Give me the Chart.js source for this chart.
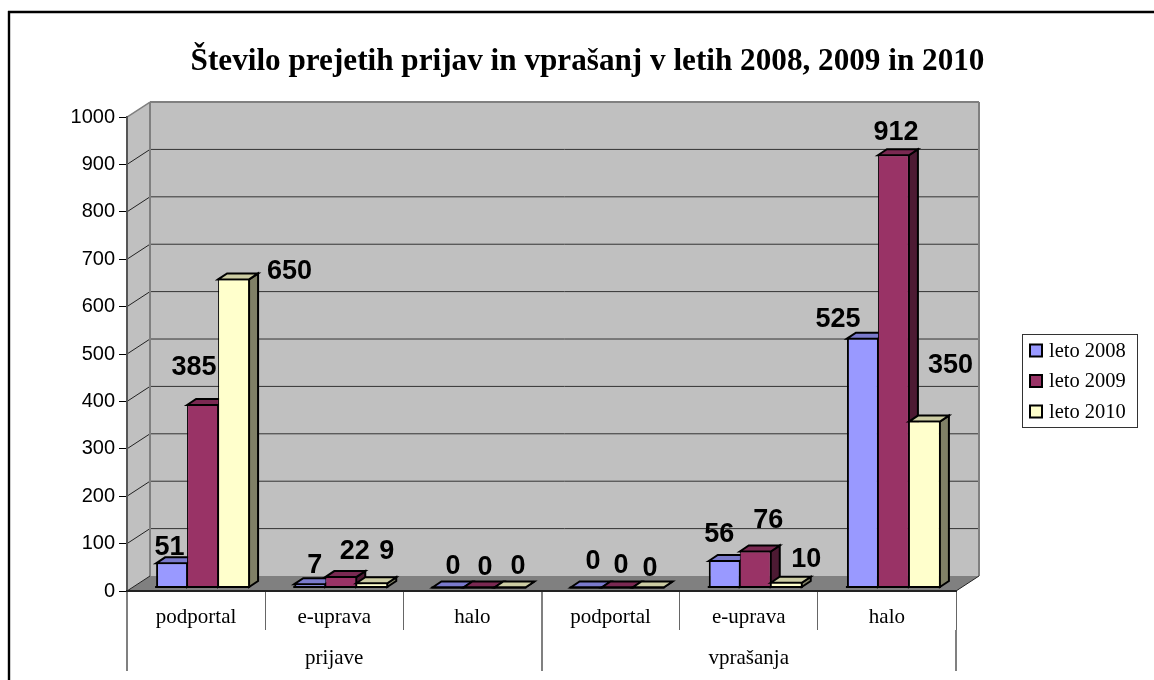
<!DOCTYPE html>
<html>
<head>
<meta charset="utf-8">
<title>Število prejetih prijav in vprašanj</title>
<script src="https://cdn.jsdelivr.net/npm/chart.js@4/dist/chart.umd.js"></script>
<style>
    body { margin: 0; background: #fff; }
    canvas { display: block; }
</style>
</head>
<body>
<canvas id="grafica" width="1154" height="680"></canvas>
<script>
const kategorije = ['podportal', 'e-uprava', 'halo', 'podportal', 'e-uprava', 'halo'];
const sklopi = ['prijave', 'vprašanja'];

const leto2008 = [51, 7, 0, 0, 56, 525];
const leto2009 = [385, 22, 0, 0, 76, 912];
const leto2010 = [650, 9, 0, 0, 10, 350];

const yTicks = [0, 100, 200, 300, 400, 500, 600, 700, 800, 900, 1000];

// rucno premaknjene oznake (dx, dy od vrha stolpca), kot v izvirniku
const oznake2008 = [[-2, -16], [5, -19], [5, -21], [7, -26], [-5, -26], [-24.5, -19]];
const oznake2009 = [[-8.5, -37], [14, -26], [6, -20], [4, -22], [13, -31], [2.5, -23]];
const oznake2010 = [[56, -8], [15, -32], [8, -21], [2, -19], [20, -23], [26, -56]];
const premikiOznak = [oznake2008, oznake2009, oznake2010];

const SERIF = '"Liberation Serif", "Times New Roman", serif';
const SANS = '"Liberation Sans", Arial, sans-serif';

// globina ozadja in stolpcev glede na sprednjo ravnino
const ZID = { dx: 23, dy: -15 };
const RAVNINA = { dx: 6.5, dy: -3.5 };
const STOLPEC = { dx: 9, dy: -6 };

function poligon(ctx, tocke, barva, rob, debelina) {
    ctx.beginPath();
    tocke.forEach((t, i) => i ? ctx.lineTo(t[0], t[1]) : ctx.moveTo(t[0], t[1]));
    ctx.closePath();
    if (barva) {
        ctx.fillStyle = barva;
        ctx.fill();
    }
    if (rob) {
        ctx.strokeStyle = rob;
        ctx.lineWidth = debelina || 1;
        ctx.stroke();
    }
}

function crta(ctx, x1, y1, x2, y2, barva, debelina) {
    ctx.beginPath();
    ctx.moveTo(x1, y1);
    ctx.lineTo(x2, y2);
    ctx.strokeStyle = barva;
    ctx.lineWidth = debelina;
    ctx.stroke();
}

const ozadje3d = {
    id: 'ozadje3d',
    // naslov je v izvirniku centriran na celo sliko, ne na risalno povrsino
    afterLayout(chart) {
        chart.titleBlock.left += 99.5;
        chart.titleBlock.right += 99.5;
    },
    beforeDraw(chart) {
        const { ctx, chartArea: a, scales } = chart;
        ctx.save();
        // okvir slike: samo zgoraj in levo
        crta(ctx, 8, 12, 1154, 12, '#000', 2.4);
        crta(ctx, 9, 11, 9, 680, '#000', 2.4);

        const bx = a.left + ZID.dx, rx = a.right + ZID.dx;
        const ty = a.top + ZID.dy, by = a.bottom + ZID.dy;
        poligon(ctx, [[a.left, a.bottom], [bx, by], [bx, ty], [a.left, a.top]], '#c0c0c0');
        poligon(ctx, [[bx, ty], [rx, ty], [rx, by], [bx, by]], '#c0c0c0');
        poligon(ctx, [[a.left, a.bottom], [a.right, a.bottom], [rx, by], [bx, by]], '#808080');

        yTicks.forEach(v => {
            if (v === 0 || v === 1000) return;
            const y = scales.y.getPixelForValue(v);
            crta(ctx, a.left, y, bx, y + ZID.dy, '#222', 1);
            crta(ctx, bx, y + ZID.dy, rx, y + ZID.dy, '#333', 1);
        });
        crta(ctx, a.left, a.top, bx, ty, '#808080', 1.5);
        crta(ctx, bx, ty, rx, ty, '#808080', 2);
        crta(ctx, rx, ty, rx, by, '#808080', 2);
        crta(ctx, bx, ty, bx, by, '#808080', 2);
        crta(ctx, a.left, a.bottom, bx, by, '#222', 1);
        crta(ctx, a.right, a.bottom, rx, by, '#222', 1);
        ctx.restore();
    }
};

const stolpci3d = {
    id: 'stolpci3d',
    // risemo sami, da je vsak naslednji stolpec cez prejsnjega
    beforeDatasetsDraw(chart) {
        const { ctx } = chart;
        ctx.save();
        ctx.translate(RAVNINA.dx, RAVNINA.dy);
        chart.data.datasets.forEach((ds, i) => {
            const meta = chart.getDatasetMeta(i);
            meta.data.forEach(bar => {
                const l = bar.x - bar.width / 2, r = bar.x + bar.width / 2;
                const { dx, dy } = STOLPEC;
                poligon(ctx, [[r, bar.base], [r + dx, bar.base + dy], [r + dx, bar.y + dy], [r, bar.y]], ds.barvaStran, '#000', 2);
                poligon(ctx, [[l, bar.y], [l + dx, bar.y + dy], [r + dx, bar.y + dy], [r, bar.y]], ds.barvaVrh, '#000', 2);
            });
            meta.controller.draw();
            meta.data.forEach(bar => {
                crta(ctx, bar.x - bar.width / 2 - 1, bar.base, bar.x + bar.width / 2 + 1, bar.base, '#000', 2);
            });
        });
        ctx.restore();
        return false;
    }
};

const oznakeInLegenda = {
    id: 'oznakeInLegenda',
    afterDraw(chart) {
        const { ctx } = chart;
        ctx.save();
        ctx.textAlign = 'center';
        ctx.textBaseline = 'middle';
        ctx.font = 'bold 27px ' + SANS;
        chart.data.datasets.forEach((ds, i) => {
            chart.getDatasetMeta(i).data.forEach((bar, j) => {
                const p = premikiOznak[i][j];
                ctx.fillStyle = '#000';
                ctx.fillText(ds.data[j], bar.x + RAVNINA.dx + p[0], bar.y + RAVNINA.dy + p[1]);
            });
        });

        // legenda
        ctx.strokeStyle = '#333';
        ctx.lineWidth = 1;
        ctx.strokeRect(1022.5, 334.5, 115, 93);
        ctx.textAlign = 'left';
        ctx.font = '20.5px ' + SERIF;
        chart.data.datasets.forEach((ds, i) => {
            const y = 350.5 + i * 30.5;
            ctx.fillStyle = ds.backgroundColor;
            ctx.fillRect(1030, y - 6, 12, 12);
            ctx.strokeStyle = '#000';
            ctx.lineWidth = 2;
            ctx.strokeRect(1030, y - 6, 12, 12);
            ctx.fillStyle = '#000';
            ctx.fillText(ds.label, 1049, y + 1);
        });
        ctx.restore();
    }
};

new Chart(document.getElementById('grafica'), {
    type: 'bar',
    data: {
        labels: kategorije,
        datasets: [
            { label: 'leto 2008', data: leto2008, backgroundColor: '#9999ff', barvaVrh: '#7a7acc', barvaStran: '#4d4d80', borderWidth: { top: 1, bottom: 1, left: 2, right: 1 } },
            { label: 'leto 2009', data: leto2009, backgroundColor: '#993366', barvaVrh: '#7a2952', barvaStran: '#4d1a33', borderWidth: { top: 1, bottom: 1, left: 1, right: 1 } },
            { label: 'leto 2010', data: leto2010, backgroundColor: '#ffffcc', barvaVrh: '#ccccA3', barvaStran: '#808066', borderWidth: { top: 1, bottom: 1, left: 1, right: 1 } }
        ].map(ds => ({
            ...ds,
            borderColor: '#000',
            borderSkipped: false,
            categoryPercentage: 0.673,
            barPercentage: 1,
            clip: false
        }))
    },
    options: {
        responsive: false,
        animation: false,
        layout: { padding: { left: 20, right: 198, top: 0, bottom: 0 } },
        plugins: {
            legend: { display: false },
            tooltip: { enabled: false },
            title: {
                display: true,
                text: 'Število prejetih prijav in vprašanj v letih 2008, 2009 in 2010',
                color: '#000',
                font: { family: SERIF, size: 31.2, weight: 'bold' },
                padding: { top: 43, bottom: 36.6 }
            }
        },
        scales: {
            y: {
                min: 0,
                max: 1000,
                afterBuildTicks(scale) {
                    scale.ticks = yTicks.map(v => ({ value: v }));
                },
                afterFit(scale) { scale.width = 107; },
                ticks: {
                    color: '#000',
                    font: { family: SANS, size: 20 },
                    padding: 4,
                    callback: v => String(v)
                },
                grid: { drawOnChartArea: false, tickLength: 8, tickColor: '#000' },
                border: { color: '#555', width: 2 }
            },
            x: {
                afterFit(scale) { scale.height = 39; },
                ticks: {
                    color: '#000',
                    font: { family: SERIF, size: 21 },
                    padding: -25,
                    autoSkip: false,
                    maxRotation: 0
                },
                grid: {
                    drawOnChartArea: false,
                    tickLength: 39,
                    tickColor: c => c.index % 3 === 0 ? '#808080' : '#666',
                    lineWidth: c => c.index % 3 === 0 ? 2 : 1
                },
                border: { color: '#222', width: 2 }
            },
            x2: {
                type: 'category',
                position: 'bottom',
                labels: sklopi,
                offset: true,
                afterFit(scale) { scale.height = 50; },
                ticks: {
                    color: '#000',
                    font: { family: SERIF, size: 21 },
                    padding: -25,
                    autoSkip: false,
                    maxRotation: 0
                },
                grid: { offset: true, drawOnChartArea: false, tickLength: 41, tickColor: '#808080', lineWidth: 2 },
                border: { display: false }
            }
        }
    },
    plugins: [ozadje3d, stolpci3d, oznakeInLegenda]
});
</script>
</body>
</html>
